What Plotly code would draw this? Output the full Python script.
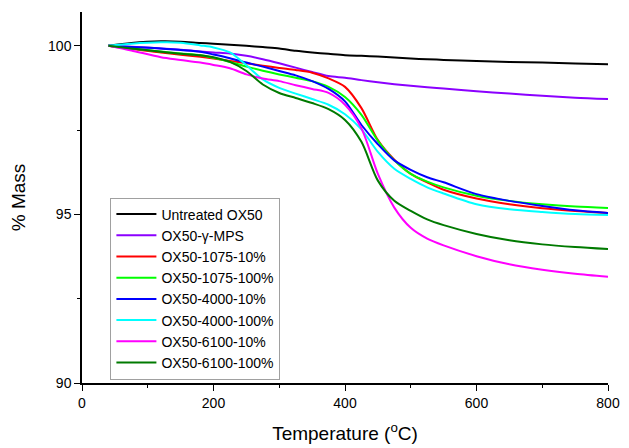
import plotly.graph_objects as go

# TGA data, temperature in degC, mass in %
temp = [40, 75, 120, 150, 180, 200, 225, 250, 275, 300, 325, 350, 375, 400,
        425, 450, 475, 500, 525, 550, 600, 650, 700, 750, 800]

untreated = [100.0, 100.08, 100.13, 100.12, 100.08, 100.06, 100.03, 100.0, 99.96, 99.92,
             99.85, 99.8, 99.76, 99.72, 99.7, 99.68, 99.65, 99.62, 99.6, 99.58,
             99.55, 99.52, 99.5, 99.47, 99.45]
mps = [100.0, 99.97, 99.92, 99.88, 99.83, 99.8, 99.77, 99.7, 99.6, 99.48,
       99.35, 99.22, 99.1, 99.05, 98.98, 98.92, 98.86, 98.81, 98.77, 98.73,
       98.65, 98.58, 98.52, 98.46, 98.42]
s1075_10 = [100.0, 99.9, 99.8, 99.73, 99.67, 99.62, 99.55, 99.48, 99.41, 99.34,
            99.28, 99.2, 99.03, 98.78, 98.15, 97.2, 96.62, 96.2, 95.95, 95.73,
            95.47, 95.3, 95.18, 95.1, 95.04]
s1075_100 = [100.0, 99.92, 99.83, 99.77, 99.72, 99.64, 99.52, 99.38, 99.26, 99.15,
             99.05, 98.95, 98.78, 98.48, 97.95, 97.18, 96.6, 96.2, 95.97, 95.8,
             95.55, 95.4, 95.3, 95.23, 95.19]
s4000_10 = [100.0, 99.96, 99.92, 99.87, 99.82, 99.74, 99.63, 99.5, 99.38, 99.25,
            99.12, 98.95, 98.72, 98.35, 97.65, 97.08, 96.6, 96.32, 96.1, 95.95,
            95.6, 95.4, 95.25, 95.12, 95.04]
s4000_100 = [100.0, 100.06, 100.1, 100.09, 100.01, 99.95, 99.8, 99.42, 99.0, 98.75,
             98.58, 98.42, 98.25, 97.97, 97.52, 96.85, 96.35, 96.05, 95.8, 95.62,
             95.3, 95.15, 95.07, 95.01, 94.98]
s6100_10 = [100.0, 99.86, 99.66, 99.58, 99.5, 99.43, 99.33, 99.15, 99.03, 98.95,
            98.83, 98.72, 98.6, 98.25, 97.55, 96.2, 95.2, 94.6, 94.28, 94.08,
            93.76, 93.52, 93.36, 93.24, 93.15]
s6100_100 = [100.0, 99.92, 99.82, 99.76, 99.72, 99.66, 99.52, 99.25, 98.85, 98.6,
             98.45, 98.3, 98.12, 97.8, 97.15, 96.0, 95.4, 95.1, 94.85, 94.68,
             94.42, 94.23, 94.11, 94.03, 93.97]

names = ["Untreated OX50", "OX50-\u03b3-MPS", "OX50-1075-10%", "OX50-1075-100%",
         "OX50-4000-10%", "OX50-4000-100%", "OX50-6100-10%", "OX50-6100-100%"]
series = [untreated, mps, s1075_10, s1075_100, s4000_10, s4000_100, s6100_10, s6100_100]
colours = ["#000000", "#8b00ff", "#ff0000", "#00ff00",
           "#0000ff", "#00ffff", "#ff00ff", "#007a00"]

fig = go.Figure()
for name, vals, c in zip(names, series, colours):
    fig.add_trace(go.Scatter(x=temp, y=vals, mode="lines", name=name,
                             line=dict(color=c, width=2, shape="spline", smoothing=0.8)))

# page body keeps its default 8px margin, so the figure is 8px smaller
axis_font = dict(family="Liberation Sans, Arial", size=14, color="#000")
fig.update_layout(
    width=621, height=440,
    margin=dict(l=74, r=21, t=4, b=65),
    paper_bgcolor="white", plot_bgcolor="white",
    font=axis_font,
    legend=dict(x=0.054, y=0.5, xanchor="left", yanchor="top",
                bordercolor="#a0a0a0", borderwidth=1, bgcolor="white",
                font=dict(family="Liberation Sans, Arial", size=14),
                itemwidth=40, tracegroupgap=0),
    xaxis=dict(
        range=[0, 800], dtick=200, showgrid=False, zeroline=False, automargin=False,
        showline=True, linecolor="black", linewidth=1.5,
        ticks="outside", ticklen=6, tickcolor="black",
        minor=dict(dtick=100, ticks="outside", ticklen=3, tickcolor="black", showgrid=False),
        title=dict(text="Temperature (<sup>o</sup>C)", font=dict(size=19), standoff=17),
    ),
    yaxis=dict(
        range=[90, 101], tickvals=[90, 95, 100], showgrid=False, zeroline=False, automargin=False,
        showline=True, linecolor="black", linewidth=1.5,
        ticks="outside", ticklen=6, tickcolor="black",
        minor=dict(tickvals=[92.5, 97.5], ticks="outside", ticklen=3, tickcolor="black", showgrid=False),
        title=dict(text="% Mass", font=dict(size=19), standoff=23),
    ),
)

fig.write_html("out.html")
